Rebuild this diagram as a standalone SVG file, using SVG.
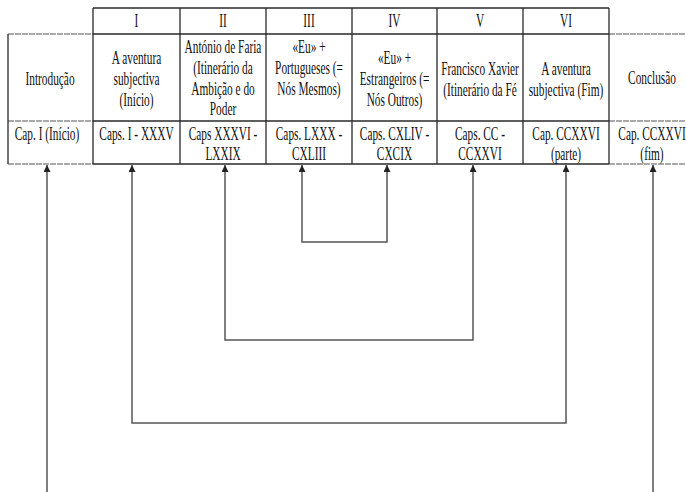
<svg xmlns="http://www.w3.org/2000/svg" width="686" height="492" viewBox="0 0 686 492">
<style>
  .t { font-family: "Liberation Serif", "Times New Roman", serif; font-size: 18px; fill: #111; text-anchor: middle; }
  .grid { stroke: #2a2a2a; stroke-width: 1.3; fill: none; }
  .faint { stroke: #555; stroke-width: 1.2; fill: none; stroke-dasharray: 6 1; }
  .conn { stroke: #555; stroke-width: 1.5; fill: none; }
</style>
<defs>
  <marker id="ah" viewBox="0 0 10 10" refX="10" refY="5" markerWidth="7" markerHeight="7" markerUnits="userSpaceOnUse" orient="auto-start-reverse">
    <path d="M0,0 L10,5 L0,10 z" fill="#222"/>
  </marker>
</defs>
<rect width="686" height="492" fill="#fff"/>

<g id="table">
  <path class="grid" d="M93,8 H609 M93,34 H609 M93,121 H609 M93,164 H609"/>
  <path class="faint" d="M8,34 H93 M8,121 H93 M8,164 H93 M609,34 H686 M609,121 H686 M609,164 H686"/>
  <path class="grid" d="M8,34 V164 M93,8 V164 M180,8 V164 M266,8 V164 M352,8 V164 M437,8 V164 M523,8 V164 M609,8 V164"/>
</g>

<g id="node-intro">
  <g transform="translate(50,0) scale(0.63,1)"><text class="t" x="0" y="85">Introdução</text></g>
  <g transform="translate(47,0) scale(0.63,1)"><text class="t" x="0" y="140">Cap. I (Início)</text></g>
</g>

<g id="node-I">
  <g transform="translate(136.5,0) scale(0.63,1)">
    <text class="t" x="0" y="27">I</text>
    <text class="t" x="0" y="64">A aventura</text>
    <text class="t" x="0" y="85">subjectiva</text>
    <text class="t" x="0" y="106">(Início)</text>
    <text class="t" x="0" y="140">Caps. I - XXXV</text>
  </g>
</g>

<g id="node-II">
  <g transform="translate(223,0) scale(0.63,1)">
    <text class="t" x="0" y="27">II</text>
    <text class="t" x="0" y="53">António de Faria</text>
    <text class="t" x="0" y="74">(Itinerário da</text>
    <text class="t" x="0" y="95">Ambição e do</text>
    <text class="t" x="0" y="115">Poder</text>
    <text class="t" x="0" y="140">Caps XXXVI -</text>
    <text class="t" x="0" y="160">LXXIX</text>
  </g>
</g>

<g id="node-III">
  <g transform="translate(309,0) scale(0.63,1)">
    <text class="t" x="0" y="27">III</text>
    <text class="t" x="0" y="53">«Eu» +</text>
    <text class="t" x="0" y="74">Portugueses (=</text>
    <text class="t" x="0" y="95">Nós Mesmos)</text>
    <text class="t" x="0" y="140">Caps. LXXX -</text>
    <text class="t" x="0" y="160">CXLIII</text>
  </g>
</g>

<g id="node-IV">
  <g transform="translate(394.5,0) scale(0.63,1)">
    <text class="t" x="0" y="27">IV</text>
    <text class="t" x="0" y="64">«Eu» +</text>
    <text class="t" x="0" y="85">Estrangeiros (=</text>
    <text class="t" x="0" y="106">Nós Outros)</text>
    <text class="t" x="0" y="140">Caps. CXLIV -</text>
    <text class="t" x="0" y="160">CXCIX</text>
  </g>
</g>

<g id="node-V">
  <g transform="translate(480,0) scale(0.63,1)">
    <text class="t" x="0" y="27">V</text>
    <text class="t" x="0" y="75">Francisco Xavier</text>
    <text class="t" x="0" y="96">(Itinerário da Fé</text>
    <text class="t" x="0" y="140">Caps. CC -</text>
    <text class="t" x="0" y="160">CCXXVI</text>
  </g>
</g>

<g id="node-VI">
  <g transform="translate(566,0) scale(0.63,1)">
    <text class="t" x="0" y="27">VI</text>
    <text class="t" x="0" y="75">A aventura</text>
    <text class="t" x="0" y="96">subjectiva (Fim)</text>
    <text class="t" x="0" y="140">Cap. CCXXVI</text>
    <text class="t" x="0" y="160">(parte)</text>
  </g>
</g>

<g id="node-conclusao">
  <g transform="translate(652,0) scale(0.63,1)">
    <text class="t" x="0" y="84">Conclusão</text>
    <text class="t" x="0" y="140">Cap. CCXXVI</text>
    <text class="t" x="0" y="160">(fim)</text>
  </g>
</g>

<g id="connectors">
  <path class="conn" d="M302,165 V242 H387 V165" marker-start="url(#ah)" marker-end="url(#ah)"/>
  <path class="conn" d="M225,165 V340 H473 V165" marker-start="url(#ah)" marker-end="url(#ah)"/>
  <path class="conn" d="M132,165 V423 H566 V165" marker-start="url(#ah)" marker-end="url(#ah)"/>
  <path class="conn" d="M47,492 V165" marker-end="url(#ah)"/>
  <path class="conn" d="M653,492 V165" marker-end="url(#ah)"/>
</g>
</svg>
